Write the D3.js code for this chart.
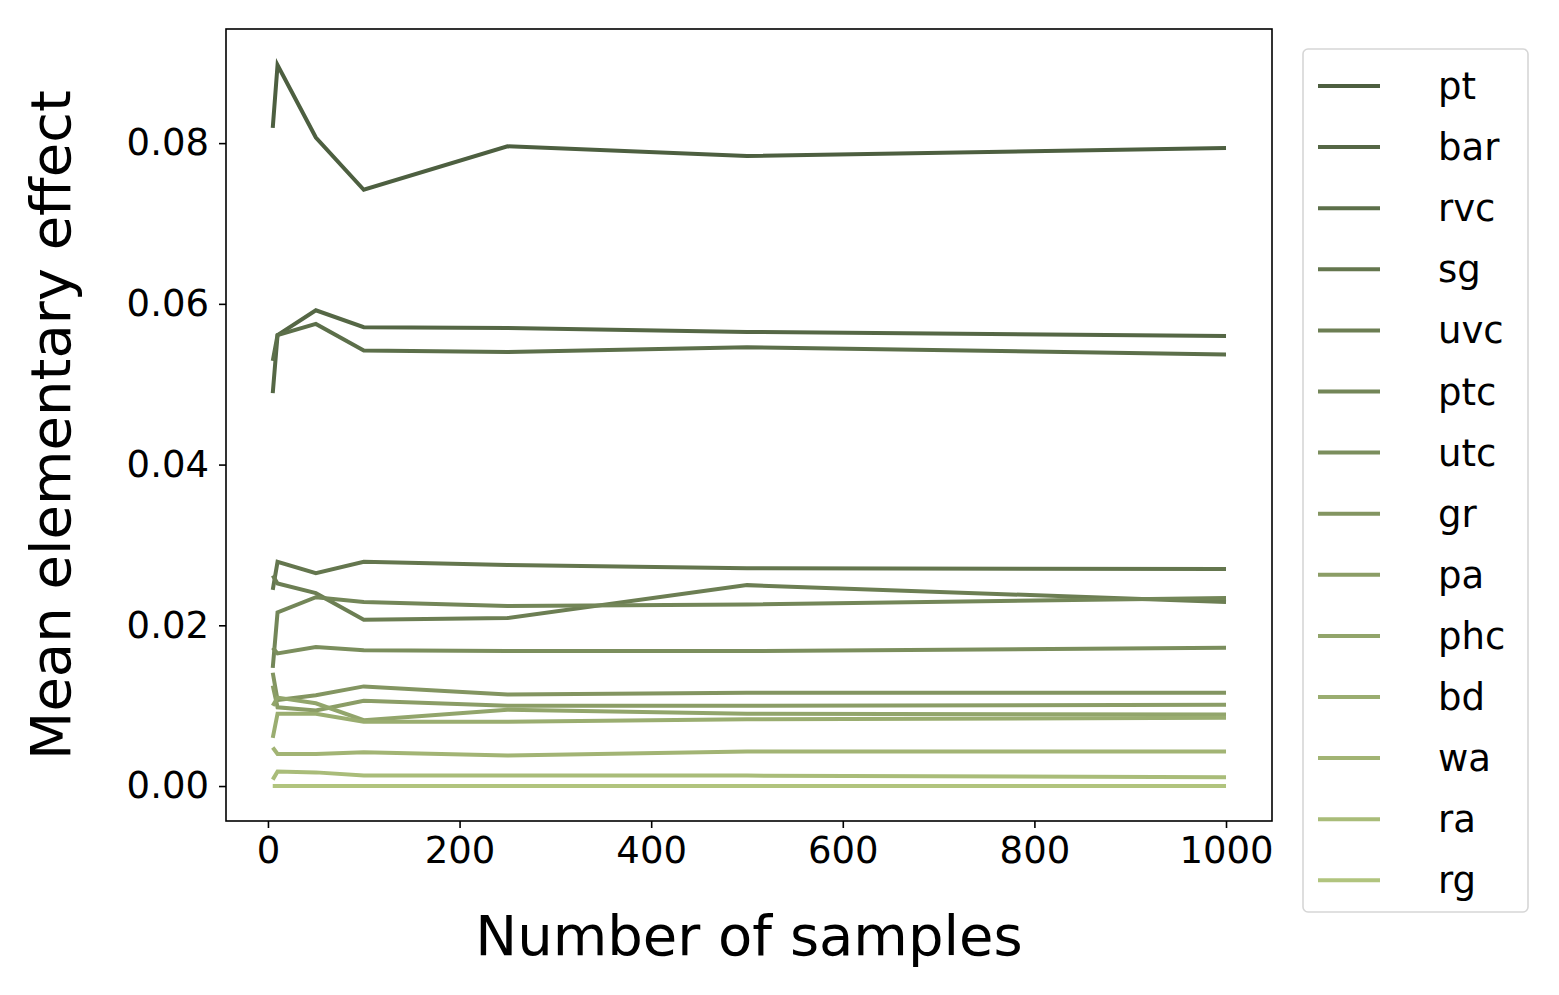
<!DOCTYPE html>
<html><head><meta charset="utf-8">
<script src="https://cdn.jsdelivr.net/npm/d3@7"></script>
<style>body{margin:0;background:#fff}text{font-family:"DejaVu Sans",sans-serif}</style>
</head><body><svg id="chart" width="1559" height="995"></svg>
<script>
var samples = [5, 10, 50, 100, 250, 500, 1000];
var names = ['pt','bar','rvc','sg','uvc','ptc','utc','gr','pa','phc','bd','wa','ra','rg'];
var pt  = [0.0819, 0.0897, 0.0807, 0.0742, 0.0796, 0.0784, 0.0794];
var bar = [0.0489, 0.0561, 0.0592, 0.0571, 0.0570, 0.0565, 0.0560];
var rvc = [0.0529, 0.0561, 0.0575, 0.0542, 0.0540, 0.0546, 0.0537];
var sg  = [0.0244, 0.0279, 0.0265, 0.0279, 0.0275, 0.0271, 0.0270];
var uvc = [0.0262, 0.0252, 0.0240, 0.0207, 0.0209, 0.0250, 0.0229];
var ptc = [0.0147, 0.0216, 0.0235, 0.0229, 0.0224, 0.0226, 0.0234];
var utc = [0.0172, 0.0165, 0.0173, 0.0169, 0.0168, 0.0168, 0.0172];
var gr  = [0.0141, 0.0107, 0.0113, 0.0124, 0.0114, 0.0116, 0.0116];
var pa  = [0.0125, 0.0098, 0.0094, 0.0106, 0.0100, 0.0100, 0.0101];
var phc = [0.0100, 0.0110, 0.0103, 0.0082, 0.0095, 0.0090, 0.0089];
var bd  = [0.0060, 0.0090, 0.0090, 0.0080, 0.0080, 0.0083, 0.0085];
var wa  = [0.0048, 0.0040, 0.0040, 0.0042, 0.0038, 0.0043, 0.0043];
var ra  = [0.0008, 0.0018, 0.0017, 0.0013, 0.0013, 0.0013, 0.0011];
var rg  = [0, 0, 0, 0, 0, 0, 0];
var series = [pt, bar, rvc, sg, uvc, ptc, utc, gr, pa, phc, bd, wa, ra, rg];
var xTicks = [0, 200, 400, 600, 800, 1000];
var yTicks = [0, 0.02, 0.04, 0.06, 0.08];

var svg = d3.select('#chart');
var L = 226, R = 1272, T = 29, B = 821;
var x = d3.scaleLinear().domain([-43.8, 1048]).range([L, R]);
var y = d3.scaleLinear().domain([-0.00435, 0.0942]).range([B, T]);
var color = function(i) { return d3.interpolateRgb('#4d5f40', '#b1c47e')(i / (names.length - 1)); };

var line = d3.line().x(function(d, i) { return x(samples[i]); }).y(function(d) { return y(d); });
svg.append('g').selectAll('path').data(series).enter().append('path')
    .attr('d', line).attr('fill', 'none')
    .attr('stroke', function(d, i) { return color(i); })
    .attr('stroke-width', 4);

var xa = svg.append('g').attr('transform', 'translate(0,' + B + ')')
    .call(d3.axisBottom(x).tickValues(xTicks).tickFormat(d3.format('d')).tickSize(7).tickPadding(9));
var ya = svg.append('g').attr('transform', 'translate(' + L + ',0)')
    .call(d3.axisLeft(y).tickValues(yTicks).tickFormat(d3.format('.2f')).tickSize(7).tickPadding(10));
[xa, ya].forEach(function(a) {
    a.attr('font-size', null).attr('font-family', null);
    a.select('.domain').remove();
    a.selectAll('text').style('font-size', '37px').attr('fill', '#000');
    a.selectAll('line').attr('stroke', '#000').attr('stroke-width', 1.6);
});
svg.append('rect').attr('x', L).attr('y', T).attr('width', R - L).attr('height', B - T)
    .attr('fill', 'none').attr('stroke', '#000').attr('stroke-width', 1.6);

svg.append('text').attr('x', (L + R) / 2).attr('y', 955).attr('text-anchor', 'middle')
    .style('font-size', '56px').text('Number of samples');
svg.append('text').attr('transform', 'translate(70,' + (T + B) / 2 + ') rotate(-90)')
    .attr('text-anchor', 'middle').style('font-size', '56px').text('Mean elementary effect');

var lg = svg.append('g');
lg.append('rect').attr('x', 1303).attr('y', 49).attr('width', 225).attr('height', 863)
    .attr('rx', 5).attr('fill', '#fff').attr('stroke', '#d6d6d6').attr('stroke-width', 1.6);
names.forEach(function(n, i) {
    var yy = 86 + i * 61.1;
    lg.append('line').attr('x1', 1318).attr('x2', 1380).attr('y1', yy).attr('y2', yy)
        .attr('stroke', color(i)).attr('stroke-width', 4);
    lg.append('text').attr('x', 1438).attr('y', yy + 13).style('font-size', '37px').text(n);
});
</script></body></html>
